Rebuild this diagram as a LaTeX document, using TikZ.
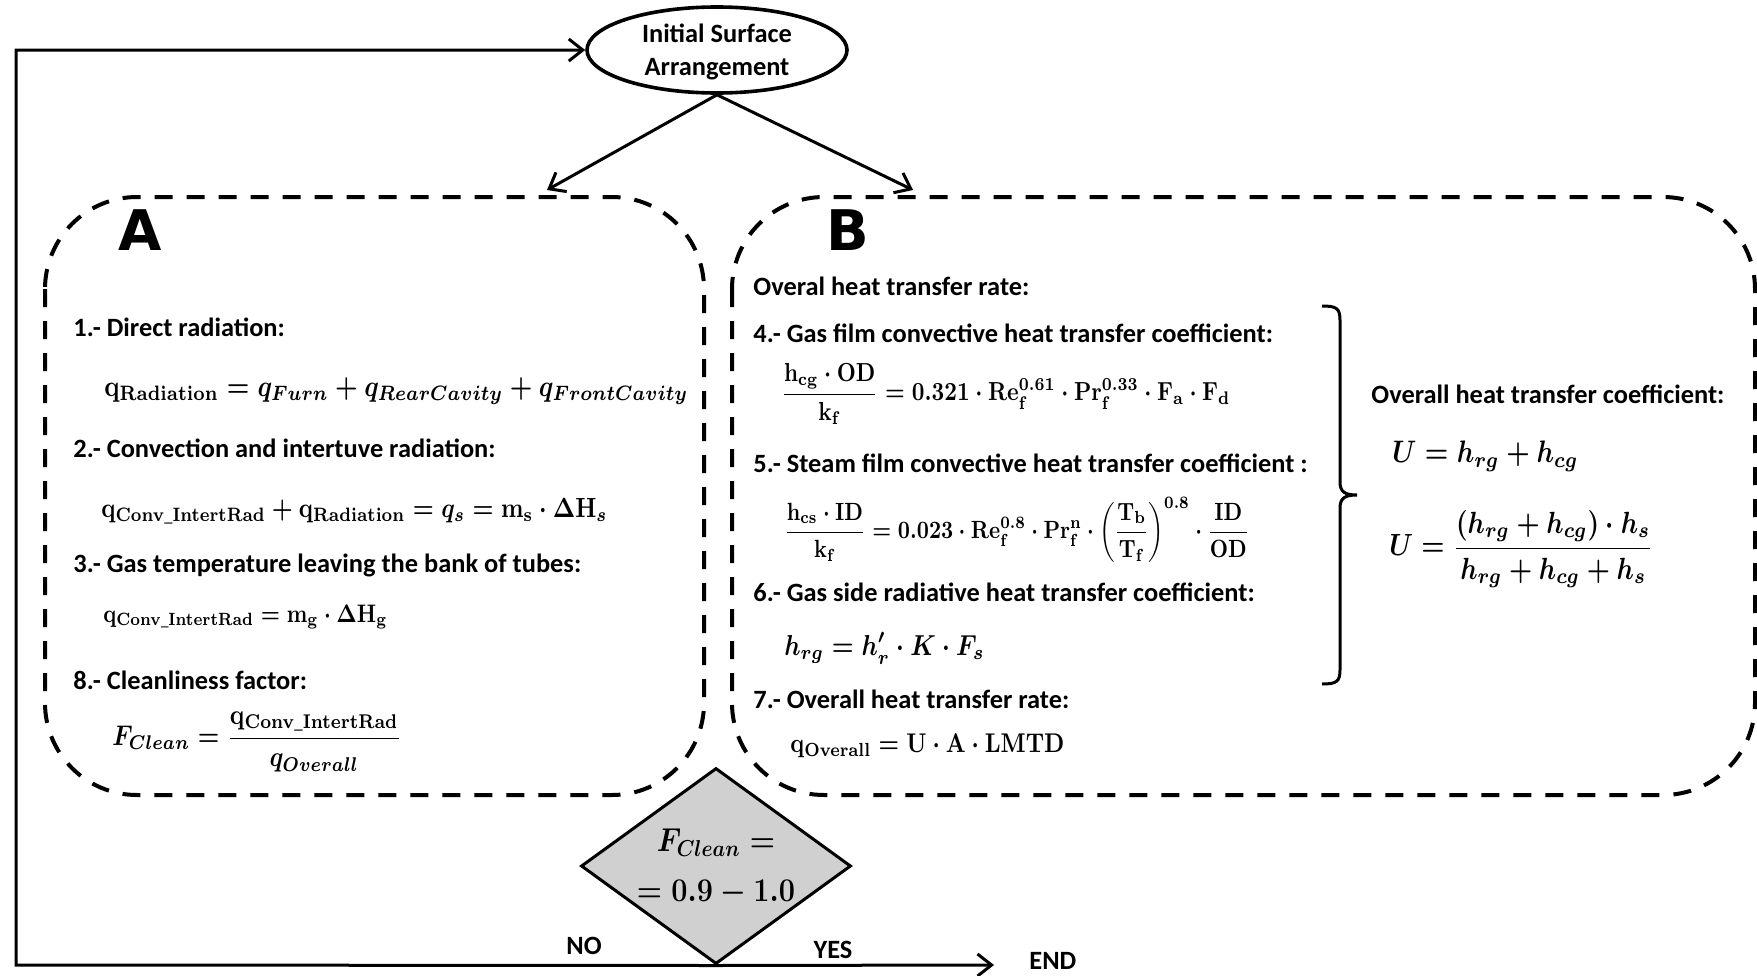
\documentclass[tikz,border=0pt]{standalone}
\usepackage[no-math]{fontspec}
\setmainfont{Carlito}
\newfontfamily\bigfont{DejaVu Sans}
\usepackage{amsmath}
\usepackage{graphicx}
\usetikzlibrary{shapes.geometric,arrows.meta}
\definecolor{dgray}{RGB}{208,208,208}
\newcommand{\eqbox}[2]{\resizebox{#1}{!}{\scalebox{1}[1.18]{\boldmath$\displaystyle #2$}}}
\newcommand{\fixedcontent}[1]{\makebox[0pt]{\raisebox{-4pt}[0pt][0pt]{#1}}}
\tikzset{
  lbl/.style={anchor=west, inner sep=0pt, font=\fontsize{13.2}{15}\selectfont\bfseries},
  eqn/.style={anchor=west, inner sep=0pt},
  region/.style={draw, line width=2pt, dash pattern=on 9pt off 7pt, rounded corners=46pt},
  flow/.style={line width=1.5pt},
  arr/.style={flow, -{Straight Barb[length=7pt,width=11pt,line width=1.5pt]}},
  bigletter/.style={inner sep=0pt, font=\bigfont\bfseries\fontsize{28}{30}\selectfont}
}
\begin{document}
\begin{tikzpicture}[x=0.5pt,y=-0.5pt]
\useasboundingbox (0,0) rectangle (1757,975);

% start node
\node[ellipse, draw, line width=1.8pt, minimum width=130pt, minimum height=43pt, inner sep=0pt,
      font=\fontsize{13.2}{16.5}\selectfont\bfseries] (init) at (717,50)
      {\fixedcontent{\begin{tabular}{@{}c@{}}Initial Surface\\Arrangement\end{tabular}}};

% regions
\draw[region] (45,197) rectangle (704,795);
\draw[region] (732,197) rectangle (1755,795);

\coordinate (aTop) at (547,190);
\coordinate (bTop) at (913,190);
\draw[arr] (init.south) -- (aTop);
\draw[arr] (init.south) -- (bTop);

\node[bigletter] (labA) at (140,230) {A};
\node[bigletter] (labB) at (848,230) {B};

% region A
\node[lbl] (t1) at (73,327) {1.- Direct radiation:};
\node[eqn] (e1) at (104,391) {\eqbox{292pt}{\mathrm{q}_{\mathrm{Radiation}} = q_{Furn} + q_{RearCavity} + q_{FrontCavity}}};
\node[lbl] (t2) at (73,448) {2.- Convection and intertuve radiation:};
\node[eqn] (e2) at (101,511) {\eqbox{253pt}{\mathrm{q}_{\mathrm{Conv\_IntertRad}} + \mathrm{q}_{\mathrm{Radiation}} = q_s = \mathrm{m_s}\cdot\Delta\mathrm{H}_s}};
\node[lbl] (t3) at (73,565) {3.- Gas temperature leaving the bank of tubes:};
\node[eqn] (e3) at (103,617) {\eqbox{142pt}{\mathrm{q}_{\mathrm{Conv\_IntertRad}} = \mathrm{m_g}\cdot\Delta\mathrm{H_g}}};
\node[lbl] (t8) at (73,680) {8.- Cleanliness factor:};
\node[eqn] (e8) at (112,742) {\eqbox{144.5pt}{F_{Clean} = \frac{\mathrm{q}_{\mathrm{Conv\_IntertRad}}}{q_{Overall}}}};

% region B
\node[lbl] (t0) at (753,286) {Overal heat transfer rate:};
\node[lbl] (t4) at (753,333) {4.- Gas film convective heat transfer coefficient:};
\node[eqn] (e4) at (781,394) {\eqbox{224.5pt}{\frac{\mathrm{h_{cg}\cdot OD}}{\mathrm{k_f}} = 0.321\cdot\mathrm{Re_f^{0.61}}\cdot\mathrm{Pr_f^{0.33}}\cdot\mathrm{F_a}\cdot\mathrm{F_d}}};
\node[lbl] (t5) at (753,463) {5.- Steam film convective heat transfer coefficient :};
\node[eqn] (e5) at (784,530) {\eqbox{232.5pt}{\frac{\mathrm{h_{cs}\cdot ID}}{\mathrm{k_f}} = 0.023\cdot\mathrm{Re_f^{0.8}}\cdot\mathrm{Pr_f^{n}}\cdot\left(\frac{\mathrm{T_b}}{\mathrm{T_f}}\right)^{0.8}\cdot\frac{\mathrm{ID}}{\mathrm{OD}}}};
\node[lbl] (t6) at (753,592) {6.- Gas side radiative heat transfer coefficient:};
\node[eqn] (e6) at (784,648) {\eqbox{100pt}{h_{rg} = h_r^{\prime}\cdot K\cdot F_s}};
\node[lbl] (t7) at (753,699) {7.- Overall heat transfer rate:};
\node[eqn] (e7) at (790,746) {\eqbox{137pt}{\mathrm{q}_{\mathrm{Overall}} = \mathrm{U\cdot A\cdot LMTD}}};

% brace
\draw[flow] (1322,306) .. controls (1336,306) and (1340,308) .. (1340,320) -- (1340,482)
  .. controls (1340,492) and (1345,495) .. (1357,495)
  .. controls (1345,495) and (1340,498) .. (1340,508) -- (1340,670)
  .. controls (1340,682) and (1336,684) .. (1322,684);

\node[lbl] (tU) at (1371,394) {Overall heat transfer coefficient:};
\node[eqn] (eU1) at (1392,456) {\eqbox{93pt}{U = h_{rg} + h_{cg}}};
\node[eqn] (eU2) at (1389,549) {\eqbox{132pt}{U = \frac{\left(h_{rg}+h_{cg}\right)\cdot h_s}{h_{rg}+h_{cg}+h_s}}};

% decision
\node[diamond, draw, flow, fill=dgray, minimum width=135pt, minimum height=98pt, aspect=1.38,
      inner sep=0pt, font=\fontsize{14.5}{25}\selectfont\boldmath] (dec) at (716,866)
      {\fixedcontent{\begin{tabular}{@{}c@{}}\scalebox{1}[1.15]{$F_{Clean} =$}\\\scalebox{1}[1.15]{$= 0.9 - 1.0$}\end{tabular}}};

\node[lbl, anchor=center] (no) at (584,946) {NO};
\node[lbl, anchor=center] (yes) at (833,950) {YES};
\coordinate (endpt) at (994,965);
\node[lbl] (endl) at (1029,961) {END};

\coordinate (c1) at (16,965);
\coordinate (c2) at (16,50);
\draw[arr] (dec.south) -- (c1) -- (c2) -- (init.west);
\draw[arr] (dec.south) -- (endpt);
\end{tikzpicture}
\end{document}
